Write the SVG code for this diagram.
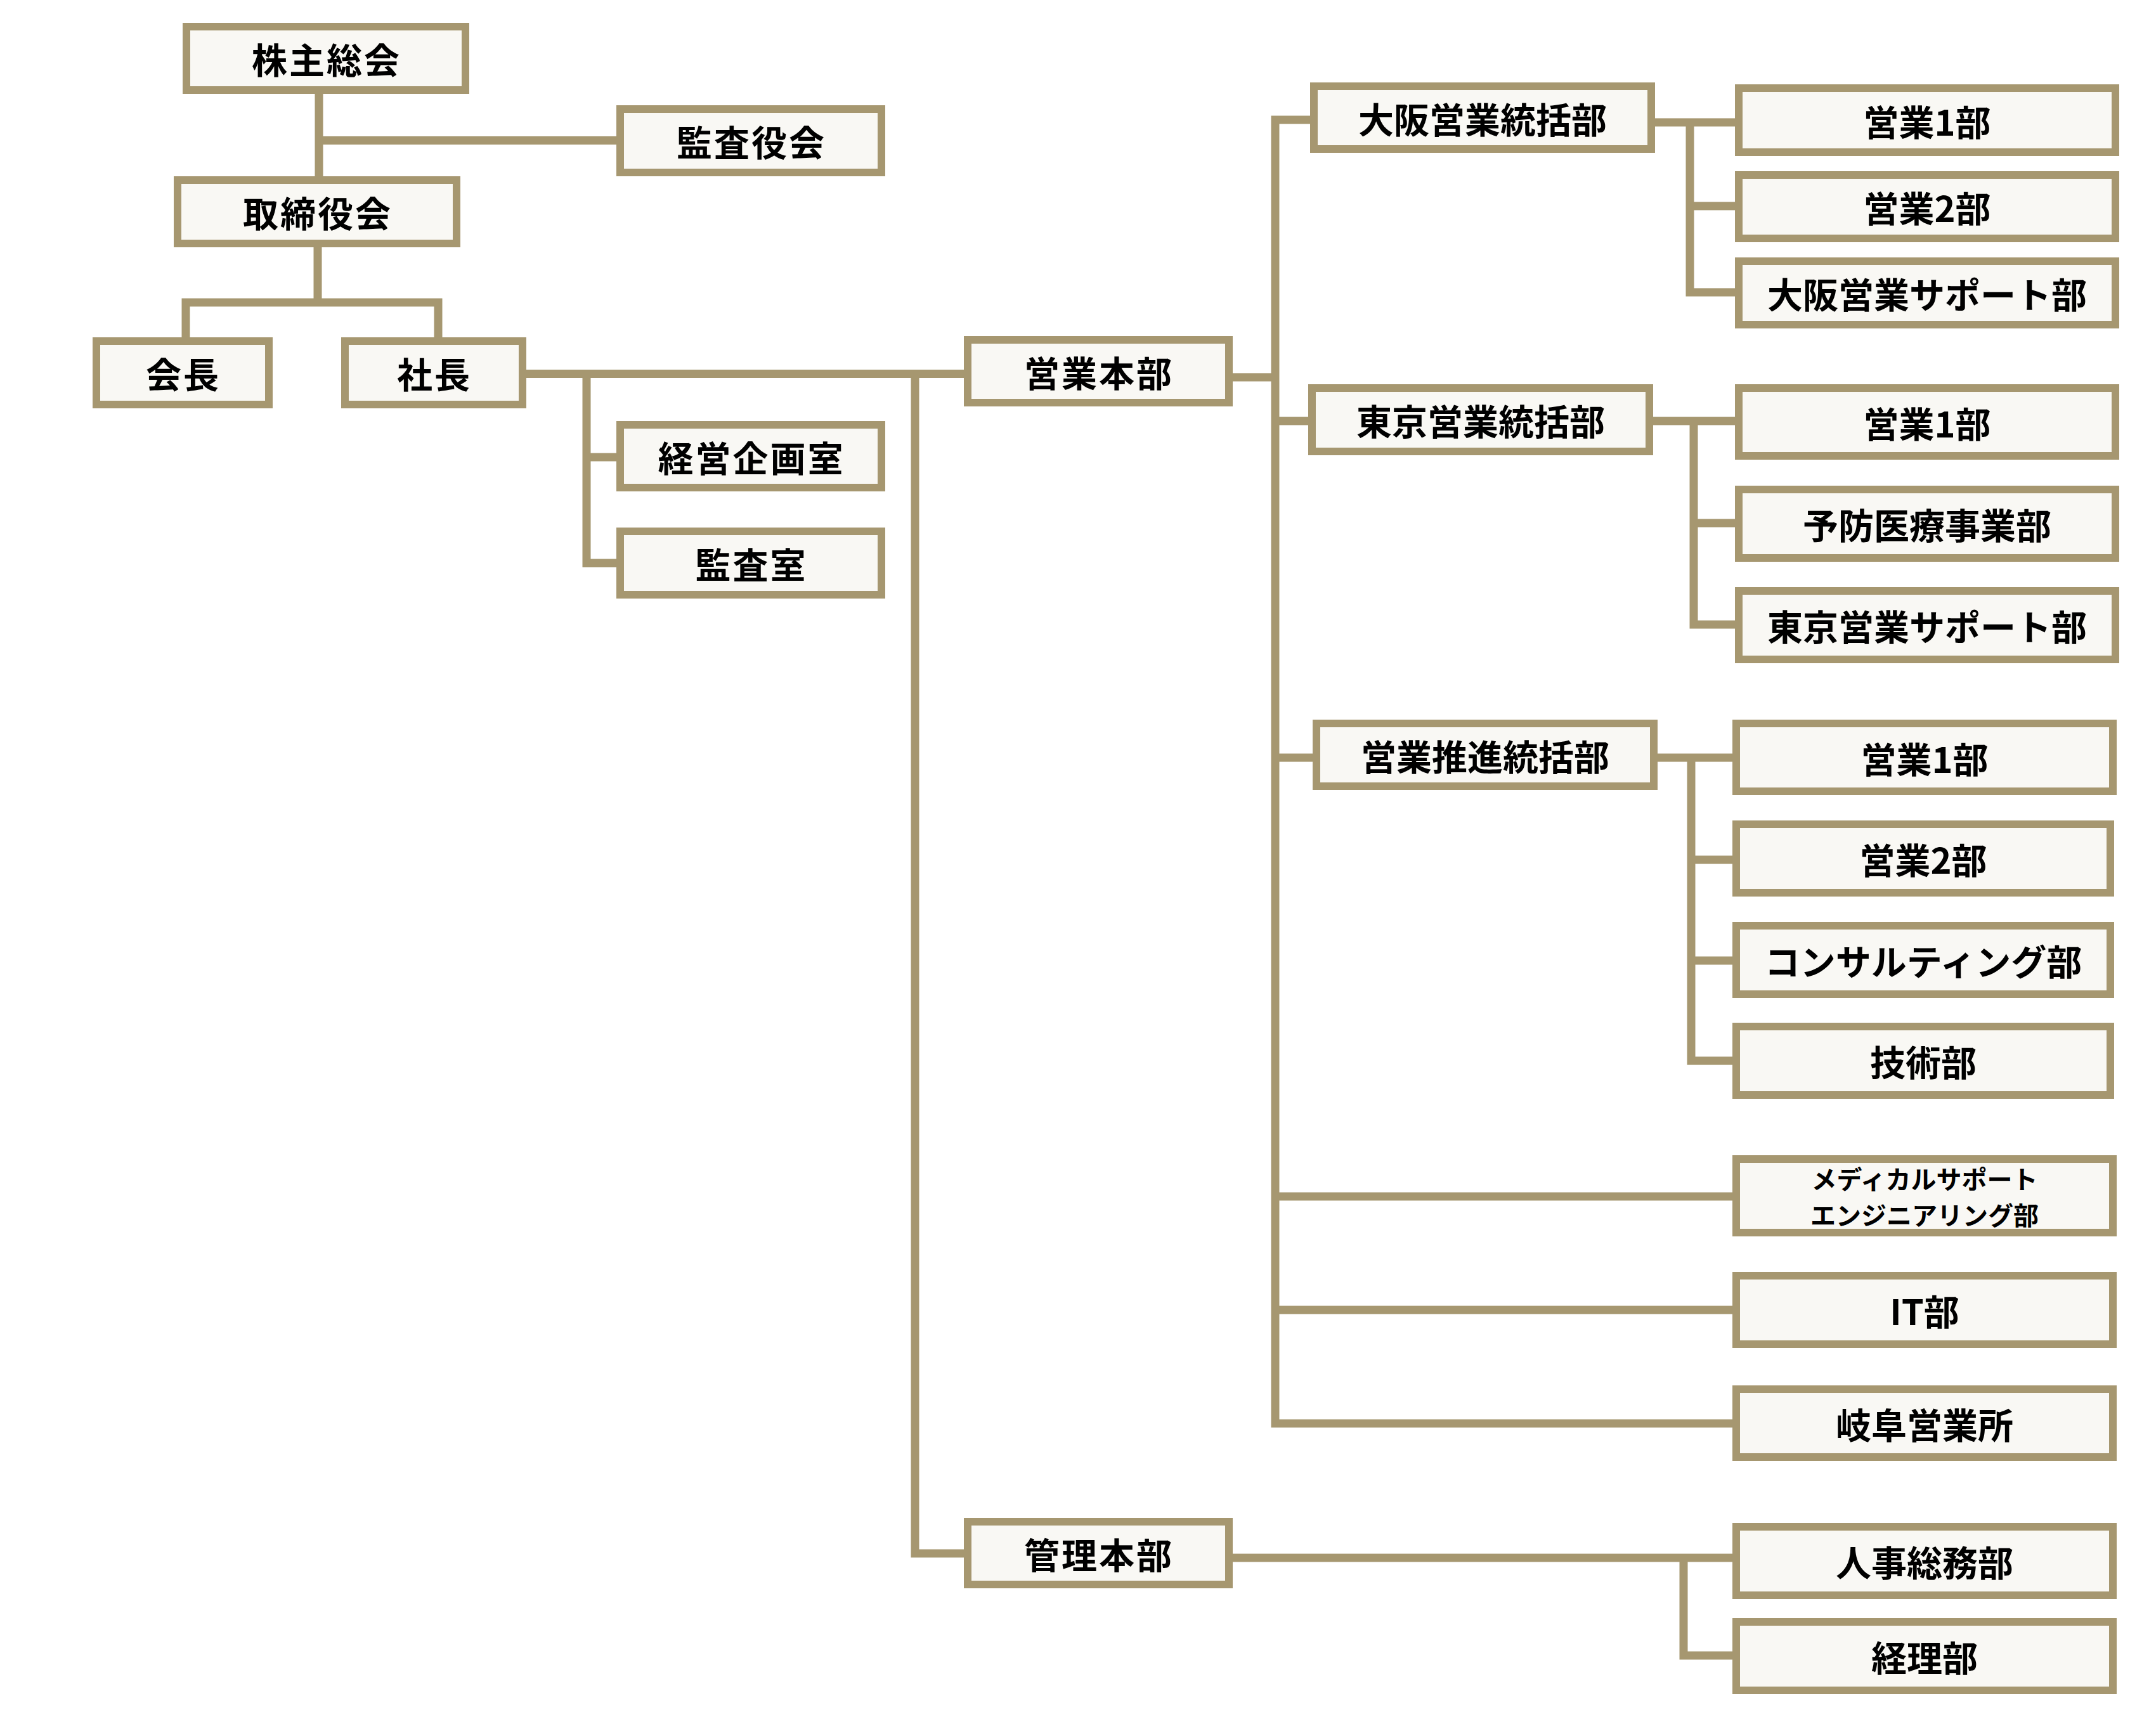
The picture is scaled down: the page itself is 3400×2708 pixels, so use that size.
<svg xmlns="http://www.w3.org/2000/svg" width="3400" height="2708" viewBox="0 0 3400 2708">
<style>
.box{fill:#F9F8F4;stroke:#A69770;stroke-width:12}
.ln{fill:none;stroke:#A69770;stroke-width:13;stroke-linejoin:miter;stroke-linecap:butt}
text{font-family:"Noto Sans CJK JP","Noto Sans CJK SC",sans-serif;font-weight:700;font-size:56px;fill:#000;text-anchor:middle;dominant-baseline:central}
.ls{letter-spacing:3px}
.sm{font-size:40px}
</style>
<rect width="3400" height="2708" fill="#FFFFFF"/>
<g id="connectors">
<path class="ln" d="M503 148V278"/>
<path class="ln" d="M503 221.5H972"/>
<path class="ln" d="M501 390V477"/>
<path class="ln" d="M293 532V477H691V532"/>
<path class="ln" d="M830 589.5H1520"/>
<path class="ln" d="M925 589V888H973"/>
<path class="ln" d="M925 721H973"/>
<path class="ln" d="M1443 589V2450H1520"/>
<path class="ln" d="M1944 595H2011"/>
<path class="ln" d="M2066 189H2011V2245H2732"/>
<path class="ln" d="M2011 664H2063"/>
<path class="ln" d="M2011 1195H2070"/>
<path class="ln" d="M2011 1887H2732"/>
<path class="ln" d="M2011 2066H2732"/>
<path class="ln" d="M2610 193H2736"/>
<path class="ln" d="M2665 193V461H2736"/>
<path class="ln" d="M2665 325H2736"/>
<path class="ln" d="M2607 664H2736"/>
<path class="ln" d="M2671 664V985H2736"/>
<path class="ln" d="M2671 825H2736"/>
<path class="ln" d="M2614 1195H2732"/>
<path class="ln" d="M2667 1195V1673H2732"/>
<path class="ln" d="M2667 1356H2732"/>
<path class="ln" d="M2667 1515H2732"/>
<path class="ln" d="M1944 2457H2732"/>
<path class="ln" d="M2655 2457V2611H2732"/>
</g>
<g id="n-kabunushi"><rect class="box" x="294" y="42" width="440" height="100"/><text class="ls" x="515" y="91">株主総会</text></g>
<g id="n-kansayakukai"><rect class="box" x="978" y="172" width="412" height="100"/><text class="ls" x="1185" y="221">監査役会</text></g>
<g id="n-torishimariyaku"><rect class="box" x="280" y="284" width="440" height="100"/><text class="ls" x="501" y="333">取締役会</text></g>
<g id="n-kaicho"><rect class="box" x="152" y="538" width="272" height="100"/><text class="ls" x="289" y="587">会長</text></g>
<g id="n-shacho"><rect class="box" x="544" y="538" width="280" height="100"/><text class="ls" x="685" y="587">社長</text></g>
<g id="n-keiei"><rect class="box" x="978" y="670" width="412" height="99"/><text class="ls" x="1185" y="719">経営企画室</text></g>
<g id="n-kansashitsu"><rect class="box" x="978" y="838" width="412" height="100"/><text class="ls" x="1185" y="887">監査室</text></g>
<g id="n-eigyohonbu"><rect class="box" x="1526" y="536" width="412" height="99"/><text class="ls" x="1733" y="585">営業本部</text></g>
<g id="n-kanrihonbu"><rect class="box" x="1526" y="2400" width="412" height="99"/><text class="ls" x="1733" y="2449">管理本部</text></g>
<g id="n-osaka"><rect class="box" x="2072" y="136" width="532" height="99"/><text x="2338" y="185">大阪営業統括部</text></g>
<g id="n-tokyo"><rect class="box" x="2069" y="612" width="532" height="100"/><text x="2335" y="661">東京営業統括部</text></g>
<g id="n-suishin"><rect class="box" x="2076" y="1141" width="532" height="99"/><text x="2342" y="1190">営業推進統括部</text></g>
<g id="n-osaka-1"><rect class="box" x="2742" y="139" width="594" height="101"/><text x="3039" y="189">営業1部</text></g>
<g id="n-osaka-2"><rect class="box" x="2742" y="276" width="594" height="100"/><text x="3039" y="325">営業2部</text></g>
<g id="n-osaka-support"><rect class="box" x="2742" y="412" width="594" height="100"/><text x="3039" y="461">大阪営業サポート部</text></g>
<g id="n-tokyo-1"><rect class="box" x="2742" y="612" width="594" height="107"/><text x="3039" y="665">営業1部</text></g>
<g id="n-yobo"><rect class="box" x="2742" y="772" width="594" height="108"/><text x="3039" y="825">予防医療事業部</text></g>
<g id="n-tokyo-support"><rect class="box" x="2742" y="932" width="594" height="108"/><text x="3039" y="985">東京営業サポート部</text></g>
<g id="n-suishin-1"><rect class="box" x="2738" y="1141" width="594" height="107"/><text x="3035" y="1194">営業1部</text></g>
<g id="n-suishin-2"><rect class="box" x="2738" y="1300" width="590" height="108"/><text x="3033" y="1353">営業2部</text></g>
<g id="n-consulting"><rect class="box" x="2738" y="1460" width="590" height="108"/><text x="3033" y="1513">コンサルティング部</text></g>
<g id="n-gijutsu"><rect class="box" x="2738" y="1619" width="590" height="108"/><text x="3033" y="1672">技術部</text></g>
<g id="n-medical"><rect class="box" x="2738" y="1828" width="594" height="116"/><text class="sm" x="3035" y="1858">メディカルサポート</text><text class="sm" x="3035" y="1915">エンジニアリング部</text></g>
<g id="n-it"><rect class="box" x="2738" y="2012" width="594" height="108"/><text x="3035" y="2065">IT部</text></g>
<g id="n-gifu"><rect class="box" x="2738" y="2191" width="594" height="107"/><text x="3035" y="2244">岐阜営業所</text></g>
<g id="n-jinji"><rect class="box" x="2738" y="2408" width="594" height="108"/><text x="3035" y="2461">人事総務部</text></g>
<g id="n-keiri"><rect class="box" x="2738" y="2558" width="594" height="108"/><text x="3035" y="2611">経理部</text></g>
</svg>
